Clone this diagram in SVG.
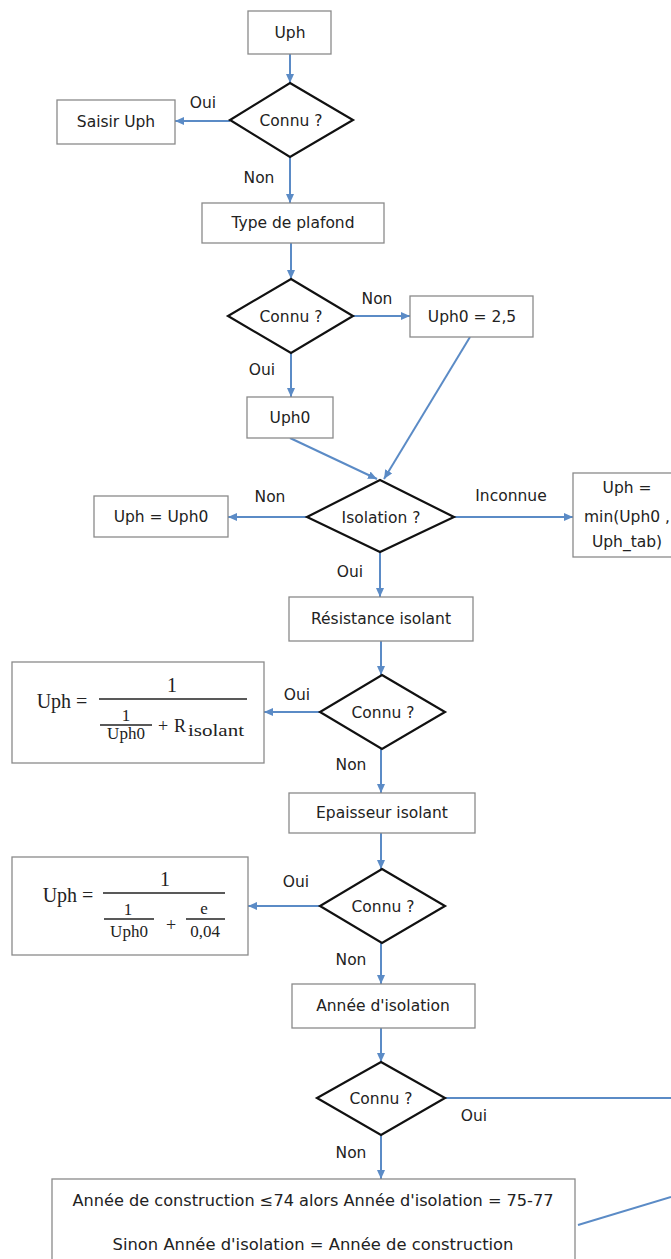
<svg xmlns="http://www.w3.org/2000/svg" width="671" height="1259" viewBox="0 0 671 1259">
<defs>
<style>
.box{fill:#fff;stroke:#8a8a8a;stroke-width:1.3}
.dia{fill:#fff;stroke:#111;stroke-width:2.2}
.conn{stroke:#5b8bc6;stroke-width:2;fill:none}
.t{font-family:"DejaVu Sans","Liberation Sans",sans-serif;font-size:15.5px;fill:#222;text-anchor:middle}
.m{font-family:"Liberation Serif","DejaVu Serif",serif;fill:#222;text-anchor:middle}
.bar{stroke:#222;stroke-width:1.3}
</style>
<marker id="ah" markerWidth="9" markerHeight="8" refX="9" refY="4" orient="auto" markerUnits="userSpaceOnUse">
<path d="M0,0 L9,4 L0,8 z" fill="#5b8bc6"/>
</marker>
</defs>
<rect width="671" height="1259" fill="#fff"/>

<g id="connectors">
<line class="conn" x1="290" y1="54" x2="290" y2="83" marker-end="url(#ah)"/>
<line class="conn" x1="230" y1="121" x2="175" y2="121" marker-end="url(#ah)"/>
<line class="conn" x1="290" y1="157" x2="290" y2="203" marker-end="url(#ah)"/>
<line class="conn" x1="291" y1="243" x2="291" y2="279" marker-end="url(#ah)"/>
<line class="conn" x1="353" y1="316" x2="410" y2="316" marker-end="url(#ah)"/>
<line class="conn" x1="291" y1="353" x2="291" y2="397" marker-end="url(#ah)"/>
<line class="conn" x1="290" y1="438" x2="377" y2="479" marker-end="url(#ah)"/>
<line class="conn" x1="470" y1="337" x2="384" y2="479" marker-end="url(#ah)"/>
<line class="conn" x1="307" y1="517" x2="228" y2="517" marker-end="url(#ah)"/>
<line class="conn" x1="454" y1="517" x2="573" y2="517" marker-end="url(#ah)"/>
<line class="conn" x1="380" y1="552" x2="380" y2="597" marker-end="url(#ah)"/>
<line class="conn" x1="381" y1="641" x2="381" y2="675" marker-end="url(#ah)"/>
<line class="conn" x1="320" y1="712" x2="264" y2="712" marker-end="url(#ah)"/>
<line class="conn" x1="381" y1="749" x2="381" y2="793" marker-end="url(#ah)"/>
<line class="conn" x1="381" y1="833" x2="381" y2="869" marker-end="url(#ah)"/>
<line class="conn" x1="320" y1="906" x2="248" y2="906" marker-end="url(#ah)"/>
<line class="conn" x1="381" y1="943" x2="381" y2="984" marker-end="url(#ah)"/>
<line class="conn" x1="381" y1="1028" x2="381" y2="1062" marker-end="url(#ah)"/>
<line class="conn" x1="445" y1="1098" x2="671" y2="1098"/>
<line class="conn" x1="381" y1="1135" x2="381" y2="1179" marker-end="url(#ah)"/>
<line class="conn" x1="578" y1="1225" x2="671" y2="1197"/>
<text class="t" x="203" y="108">Oui</text>
<text class="t" x="259" y="183">Non</text>
<text class="t" x="377" y="304">Non</text>
<text class="t" x="262" y="375">Oui</text>
<text class="t" x="270" y="502">Non</text>
<text class="t" x="511" y="501">Inconnue</text>
<text class="t" x="350" y="577">Oui</text>
<text class="t" x="297" y="700">Oui</text>
<text class="t" x="351" y="770">Non</text>
<text class="t" x="296" y="887">Oui</text>
<text class="t" x="351" y="965">Non</text>
<text class="t" x="474" y="1121">Oui</text>
<text class="t" x="351" y="1158">Non</text>
</g>

<g id="n-uph">
<rect class="box" x="248" y="11" width="83" height="43"/>
<text class="t" x="290" y="38">Uph</text>
</g>
<g id="n-connu1">
<polygon class="dia" points="290,83 353,120 290,157 230,120"/>
<text class="t" x="291" y="126">Connu ?</text>
</g>
<g id="n-saisir">
<rect class="box" x="57" y="100" width="118" height="44"/>
<text class="t" x="116" y="127">Saisir Uph</text>
</g>
<g id="n-type">
<rect class="box" x="202" y="203" width="182" height="40"/>
<text class="t" x="293" y="228">Type de plafond</text>
</g>
<g id="n-connu2">
<polygon class="dia" points="291,279 353,316 291,353 228,316"/>
<text class="t" x="291" y="322">Connu ?</text>
</g>
<g id="n-uph025">
<rect class="box" x="410" y="296" width="123" height="41"/>
<text class="t" x="472" y="322">Uph0 = 2,5</text>
</g>
<g id="n-uph0">
<rect class="box" x="247" y="397" width="86" height="41"/>
<text class="t" x="290" y="423">Uph0</text>
</g>
<g id="n-isolation">
<polygon class="dia" points="380,480 454,517 380,552 307,517"/>
<text class="t" x="381" y="523">Isolation ?</text>
</g>
<g id="n-uph-eq-uph0">
<rect class="box" x="94" y="496" width="134" height="41"/>
<text class="t" x="161" y="522">Uph = Uph0</text>
</g>
<g id="n-uph-min">
<rect class="box" x="573" y="473" width="110" height="84"/>
<text class="t" x="627" y="493">Uph =</text>
<text class="t" x="627" y="522">min(Uph0 ,</text>
<text class="t" x="627" y="547">Uph_tab)</text>
</g>
<g id="n-resistance">
<rect class="box" x="289" y="597" width="184" height="44"/>
<text class="t" x="381" y="624">Résistance isolant</text>
</g>
<g id="n-connu3">
<polygon class="dia" points="382,675 445,712 382,749 320,712"/>
<text class="t" x="383" y="718">Connu ?</text>
</g>
<g id="n-formule1">
<rect class="box" x="12" y="662" width="252" height="101"/>
<text class="m" x="62" y="708" font-size="20">Uph =</text>
<line class="bar" x1="99" y1="699" x2="247" y2="699"/>
<text class="m" x="172" y="692" font-size="20">1</text>
<text class="m" x="126" y="721" font-size="17">1</text>
<line class="bar" x1="100" y1="725" x2="152" y2="725"/>
<text class="m" x="126" y="739" font-size="17">Uph0</text>
<text class="m" x="163" y="732" font-size="18">+</text>
<text class="m" x="180" y="732" font-size="18">R</text>
<text class="m" x="216" y="736" font-size="17" textLength="56" lengthAdjust="spacingAndGlyphs">isolant</text>
</g>
<g id="n-epaisseur">
<rect class="box" x="289" y="793" width="186" height="40"/>
<text class="t" x="382" y="818">Epaisseur isolant</text>
</g>
<g id="n-connu4">
<polygon class="dia" points="382,869 445,906 382,943 320,906"/>
<text class="t" x="383" y="912">Connu ?</text>
</g>
<g id="n-formule2">
<rect class="box" x="12" y="857" width="236" height="98"/>
<text class="m" x="68" y="902" font-size="20">Uph =</text>
<line class="bar" x1="103" y1="893" x2="225" y2="893"/>
<text class="m" x="165" y="886" font-size="20">1</text>
<text class="m" x="128" y="915" font-size="17">1</text>
<line class="bar" x1="104" y1="919" x2="154" y2="919"/>
<text class="m" x="129" y="937" font-size="17">Uph0</text>
<text class="m" x="171" y="931" font-size="18">+</text>
<text class="m" x="204" y="914" font-size="17">e</text>
<line class="bar" x1="186" y1="919" x2="225" y2="919"/>
<text class="m" x="205" y="937" font-size="17">0,04</text>
</g>
<g id="n-annee">
<rect class="box" x="292" y="984" width="183" height="44"/>
<text class="t" x="383" y="1011">Année d'isolation</text>
</g>
<g id="n-connu5">
<polygon class="dia" points="381,1062 445,1098 381,1135 317,1098"/>
<text class="t" x="381" y="1104">Connu ?</text>
</g>
<g id="n-construction">
<rect class="box" x="52" y="1179" width="523" height="90"/>
<text class="t" x="313" y="1206" textLength="481" lengthAdjust="spacingAndGlyphs">Année de construction ≤74 alors Année d'isolation = 75-77</text>
<text class="t" x="313" y="1250" textLength="401" lengthAdjust="spacingAndGlyphs">Sinon Année d'isolation = Année de construction</text>
</g>
</svg>
